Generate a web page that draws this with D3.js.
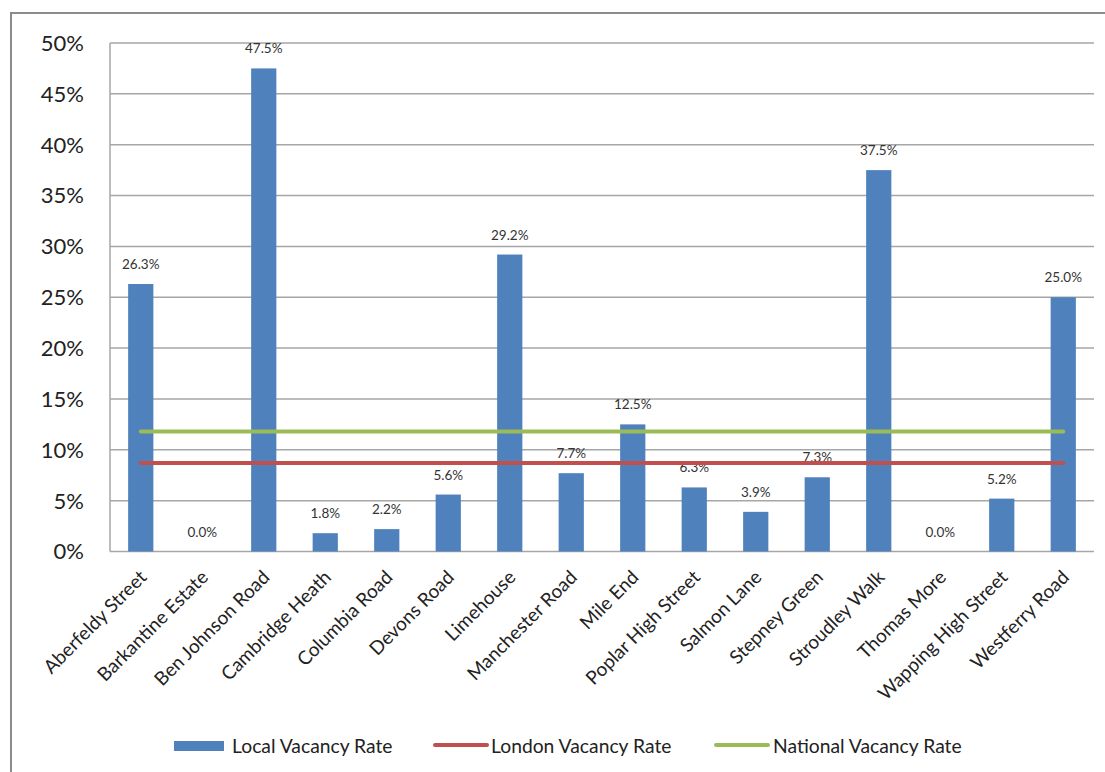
<!DOCTYPE html>
<html>
<head>
<meta charset="utf-8">
<script src="https://cdn.jsdelivr.net/npm/d3@7"></script>
<style>
  body { margin: 0; background: #fff; }
  svg { font-family: Lato, "Open Sans", sans-serif; }
</style>
</head>
<body>
<svg id="chart"></svg>
<script>
// data
let areas = ['Aberfeldy Street', 'Barkantine Estate', 'Ben Johnson Road', 'Cambridge Heath',
  'Columbia Road', 'Devons Road', 'Limehouse', 'Manchester Road', 'Mile End',
  'Poplar High Street', 'Salmon Lane', 'Stepney Green', 'Stroudley Walk', 'Thomas More',
  'Wapping High Street', 'Westferry Road']
let localRate = [26.3, 0.0, 47.5, 1.8, 2.2, 5.6, 29.2, 7.7, 12.5, 6.3, 3.9, 7.3, 37.5, 0.0, 5.2, 25.0]
let londonRate = areas.map(() => 8.7)
let nationalRate = areas.map(() => 11.8)
let yTicks = [0, 5, 10, 15, 20, 25, 30, 35, 40, 45, 50]

let W = 1105, H = 772
let svg = d3.select('#chart').attr('width', W).attr('height', H)

// outer chart border (cut off on right / bottom like the screenshot)
svg.append('rect').attr('x', 11).attr('y', 13).attr('width', W + 20).attr('height', H + 20)
  .attr('fill', 'none').attr('stroke', '#8c8c8c').attr('stroke-width', 2)

let pLeft = 110, pRight = 1094, pTop = 43, pBottom = 551.5

let x = d3.scaleBand().domain(areas).range([pLeft, pRight]).padding(0)
let y = d3.scaleLinear().domain([0, 50]).range([pBottom, pTop])

// gridlines
svg.append('g').selectAll('line').data(yTicks).enter().append('line')
  .attr('x1', pLeft).attr('x2', pRight)
  .attr('y1', d => y(d)).attr('y2', d => y(d))
  .attr('stroke', '#a6a6a6').attr('stroke-width', 1.5)

// y axis line
svg.append('line').attr('x1', pLeft).attr('x2', pLeft).attr('y1', pTop).attr('y2', pBottom)
  .attr('stroke', '#a6a6a6').attr('stroke-width', 1.5)

// y labels
svg.append('g').selectAll('text').data(yTicks).enter().append('text')
  .attr('x', 84).attr('y', d => y(d)).attr('dy', '0.36em')
  .attr('text-anchor', 'end').attr('font-size', 22).attr('fill', '#222')
  .text(d => d + '%')

// bars
let bw = x.bandwidth() * 0.41
svg.append('g').selectAll('rect').data(localRate).enter().append('rect')
  .attr('x', (d, i) => x(areas[i]) + (x.bandwidth() - bw) / 2)
  .attr('y', d => y(d))
  .attr('width', bw)
  .attr('height', d => y(0) - y(d))
  .attr('fill', '#4f81bd')

// bar value labels
svg.append('g').selectAll('text').data(localRate).enter().append('text')
  .attr('x', (d, i) => x(areas[i]) + x.bandwidth() / 2)
  .attr('y', d => y(d) - 15)
  .attr('text-anchor', 'middle').attr('font-size', 13.5).attr('fill', '#333')
  .text(d => d.toFixed(1) + '%')

// lines
let line = d3.line().x((d, i) => x(areas[i]) + x.bandwidth() / 2).y(d => y(d))
svg.append('path').datum(londonRate).attr('d', line)
  .attr('fill', 'none').attr('stroke', '#c0504d').attr('stroke-width', 4).attr('stroke-linecap', 'round')
svg.append('path').datum(nationalRate).attr('d', line)
  .attr('fill', 'none').attr('stroke', '#9bbb59').attr('stroke-width', 4).attr('stroke-linecap', 'round')

// x labels
svg.append('g').selectAll('text').data(areas).enter().append('text')
  .attr('transform', d => `translate(${x(d) + x.bandwidth() / 2 + 7},${pBottom + 27}) rotate(-45)`)
  .attr('text-anchor', 'end').attr('font-size', 19).attr('fill', '#222')
  .text(d => d)

// legend
let legend = svg.append('g').attr('font-size', 19.3).attr('fill', '#222')
legend.append('rect').attr('x', 174).attr('y', 741).attr('width', 50).attr('height', 10).attr('fill', '#4f81bd')
legend.append('text').attr('x', 232).attr('y', 746).attr('dy', '0.36em').text('Local Vacancy Rate')
legend.append('line').attr('x1', 435).attr('x2', 487).attr('y1', 745).attr('y2', 745)
  .attr('stroke', '#c0504d').attr('stroke-width', 4).attr('stroke-linecap', 'round')
legend.append('text').attr('x', 491).attr('y', 746).attr('dy', '0.36em').text('London Vacancy Rate')
legend.append('line').attr('x1', 716).attr('x2', 768).attr('y1', 745).attr('y2', 745)
  .attr('stroke', '#9bbb59').attr('stroke-width', 4).attr('stroke-linecap', 'round')
legend.append('text').attr('x', 773).attr('y', 746).attr('dy', '0.36em').text('National Vacancy Rate')
</script>
</body>
</html>
